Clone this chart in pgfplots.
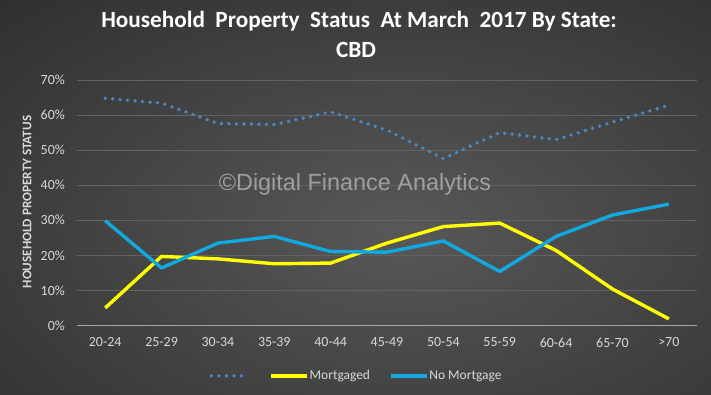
\documentclass[border=0pt]{standalone}
\usepackage{pgfplots}
\pgfplotsset{compat=1.18}
\usepackage{fontspec}
\setmainfont{Carlito}
\newfontfamily\wmfont{Liberation Sans}
\definecolor{bgin}{HTML}{585858}
\definecolor{bgout}{HTML}{1E1E1E}
\definecolor{gridc}{HTML}{626262}
\definecolor{zeroc}{HTML}{A6A6A6}
\definecolor{txtc}{HTML}{D9D9D9}
\definecolor{dotc}{HTML}{4F86C0}
\definecolor{yel}{HTML}{FFFF00}
\definecolor{blu}{HTML}{12A8E0}
\definecolor{wmc}{HTML}{A8A8A8}
\begin{document}
\begin{tikzpicture}
\useasboundingbox (0,0) rectangle (711bp,395bp);
\begin{scope}
\clip (0,0) rectangle (711bp,395bp);
\shade[inner color=bgin, outer color=bgout] (-420bp,-300bp) rectangle (1220bp,630bp);
\end{scope}
\node[text=white, font=\fontsize{23.3}{26}\selectfont\bfseries] at (359bp,374bp) {Household\ \ Property\ \ Status\ \ At March\ \ 2017 By State:};
\node[text=white, font=\fontsize{23.3}{26}\selectfont\bfseries] at (356bp,345bp) {CBD};
\node[text=txtc, rotate=90, font=\fontsize{13.2}{15}\selectfont\bfseries] at (27bp,193bp) {HOUSEHOLD PROPERTY STATUS};
\begin{axis}[
  at={(77bp,69.5bp)}, anchor=south west, scale only axis,
  width=620bp, height=245.5bp,
  xmin=-0.5, xmax=10.5, ymin=0, ymax=0.7,
  axis line style={draw=none},
  major tick length=0pt,
  xtick={0,1,2,3,4,5,6,7,8,9,10},
  xticklabels={20-24,25-29,30-34,35-39,40-44,45-49,50-54,55-59,60-64,65-70,>70},
  ytick={0.1,0.2,0.3,0.4,0.5,0.6,0.7},
  yticklabels={10\%,20\%,30\%,40\%,50\%,60\%,70\%},
  extra y ticks={0}, extra y tick labels={0\%},
  extra y tick style={grid style={draw=zeroc, line width=1bp}},
  ymajorgrids, grid style={draw=gridc, line width=0.8bp},
  tick label style={text=txtc, font=\fontsize{14}{16}\selectfont},
  yticklabel style={inner sep=0pt, anchor=east, xshift=-12bp},
  xticklabel style={inner sep=0pt, anchor=north, yshift=-12bp},
  legend style={draw=none, fill=none, at={(0.45,-0.205)}, anchor=center,
    legend columns=3, text=txtc, font=\fontsize{13.5}{16}\selectfont,
    nodes={inner sep=1bp},
    /tikz/every even column/.append style={column sep=18bp}},
  legend image code/.code={\draw[#1] (0bp,0bp) -- (36bp,0bp);},
]
\addplot[dotc, line width=3.8bp, line cap=round, dash pattern=on 0bp off 7.5bp] coordinates {
(0,0.648) (1,0.634) (2,0.576) (3,0.573) (4,0.609) (5,0.557) (6,0.476) (7,0.550) (8,0.530) (9,0.580) (10,0.628)};
\addlegendentry{\mbox{}}
\addplot[yel, line width=3.4bp, line join=round] coordinates {
(0,0.050) (1,0.197) (2,0.190) (3,0.176) (4,0.178) (5,0.235) (6,0.282) (7,0.292) (8,0.214) (9,0.104) (10,0.019)};
\addlegendentry{Mortgaged}
\addplot[blu, line width=3.4bp, line join=round] coordinates {
(0,0.299) (1,0.164) (2,0.235) (3,0.254) (4,0.211) (5,0.209) (6,0.241) (7,0.154) (8,0.254) (9,0.315) (10,0.346)};
\addlegendentry{No Mortgage}
\end{axis}
\node[text=wmc, opacity=0.9, font=\wmfont\fontsize{23.5}{26}\selectfont] at (355bp,211bp) {©Digital Finance Analytics};
\end{tikzpicture}
\end{document}
